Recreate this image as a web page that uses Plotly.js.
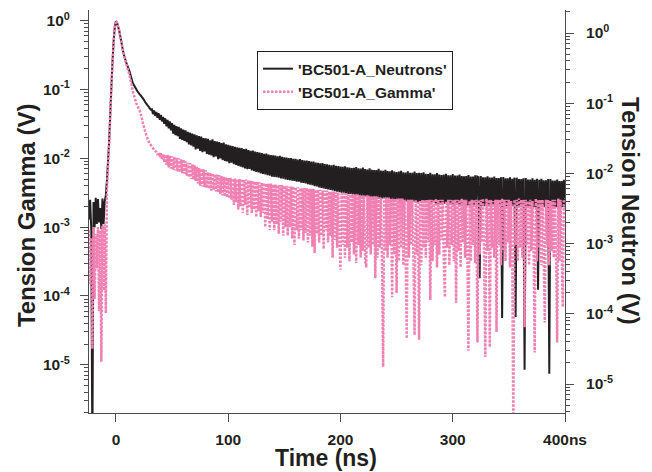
<!DOCTYPE html>
<html>
<head>
<meta charset="utf-8">
<script src="https://cdn.plot.ly/plotly-3.0.1.min.js"></script>
<style>html,body{margin:0;padding:0;background:#fff;}#chart{width:652px;height:472px;}</style>
</head>
<body>
<div id="chart"></div>
<script>
// time base (ns)
const tPre = [-24,-23,-22,-21,-20,-19,-18,-17,-16,-15,-14,-13,-12,-11,-10,-9,-8,-7,-6,-5,-4,-3,-2,-1,
  0,1,2,3,4,5,6,7,8,9,10,11,12,13,14,15,16,17,18,19,20,21,22,23,24,25,26,27,28,29,30,31];
const tTail = [32,33,34,35,36,37,38,39,40,41,
  42,43,44,45,46,47,48,49,50,51,
  52,53,54,55,56,57,58,59,60,61,
  62,63,64,65,66,67,68,69,70,71,
  72,73,74,75,76,77,78,79,80,81,
  82,83,84,85,86,87,88,89,90,91,
  92,93,94,95,96,97,98,99,100,101,
  102,103,104,105,106,107,108,109,110,111,
  112,113,114,115,116,117,118,119,120,121,
  122,123,124,125,126,127,128,129,130,131,
  132,133,134,135,136,137,138,139,140,141,
  142,143,144,145,146,147,148,149,150,151,
  152,153,154,155,156,157,158,159,160,161,
  162,163,164,165,166,167,168,169,170,171,
  172,173,174,175,176,177,178,179,180,181,
  182,183,184,185,186,187,188,189,190,191,
  192,193,194,195,196,197,198,199,200,201,
  202,203,204,205,206,207,208,209,210,211,
  212,213,214,215,216,217,218,219,220,221,
  222,223,224,225,226,227,228,229,230,231,
  232,233,234,235,236,237,238,239,240,241,
  242,243,244,245,246,247,248,249,250,251,
  252,253,254,255,256,257,258,259,260,261,
  262,263,264,265,266,267,268,269,270,271,
  272,273,274,275,276,277,278,279,280,281,
  282,283,284,285,286,287,288,289,290,291,
  292,293,294,295,296,297,298,299,300,301,
  302,303,304,305,306,307,308,309,310,311,
  312,313,314,315,316,317,318,319,320,321,
  322,323,324,325,326,327,328,329,330,331,
  332,333,334,335,336,337,338,339,340,341,
  342,343,344,345,346,347,348,349,350,351,
  352,353,354,355,356,357,358,359,360,361,
  362,363,364,365,366,367,368,369,370,371,
  372,373,374,375,376,377,378,379,380,381,
  382,383,384,385,386,387,388,389,390,391,
  392,393,394,395,396,397,398,399,400];

// 'BC501-A_Neutrons' (V, right axis)
const neutronPre = [2.2e-3,4.2e-3,1.6e-3,1e-6,3.9e-3,1.7e-3,4.5e-3,1.9e-3,4.3e-3,2.0e-3,3.2e-3,1.6e-3,4.4e-3,1.9e-3,4.0e-3,
  4.9e-3,8.1e-3,0.0155,0.030,0.075,0.18,0.41,0.79,1.22,
  1.48,1.39,1.22,1.07,0.877,0.72,0.59,0.50,0.44,0.386,0.35,0.317,0.288,0.252,0.221,0.194,
  0.182,0.170,0.159,0.149,0.142,0.135,0.129,0.123,0.117,0.111,0.104,0.099,0.094,0.090,0.085,0.081];
const neutronTail = [
  0.082,0.070,0.079,0.066,0.075,0.062,0.072,0.058,0.068,0.055,
  0.064,0.051,0.061,0.047,0.058,0.044,0.055,0.041,0.052,0.037,
  0.049,0.035,0.047,0.034,0.046,0.031,0.044,0.030,0.042,0.029,
  0.041,0.028,0.039,0.026,0.038,0.025,0.037,0.024,0.036,0.022,
  0.035,0.0225,0.034,0.021,0.0335,0.020,0.032,0.0205,0.0315,0.019,
  0.031,0.0185,0.0295,0.018,0.0305,0.017,0.029,0.0175,0.0285,0.016,
  0.028,0.0163,0.027,0.0155,0.0275,0.015,0.026,0.0148,0.0255,0.014,
  0.025,0.0142,0.0245,0.0135,0.024,0.0132,0.0235,0.0128,0.0232,0.0125,
  0.023,0.0122,0.0222,0.0118,0.0225,0.0115,0.0215,0.0116,0.021,0.011,
  0.0212,0.0108,0.0205,0.0105,0.0202,0.0103,0.0198,0.01,0.0195,0.0098,
  0.019,0.0097,0.0192,0.0094,0.0185,0.0093,0.0183,0.009,0.0181,0.0089,
  0.018,0.0088,0.0176,0.0087,0.0178,0.0085,0.0172,0.0084,0.017,0.0082,
  0.0168,0.0081,0.0166,0.008,0.0165,0.0079,0.0162,0.0078,0.0161,0.0076,
  0.0158,0.0076,0.016,0.0074,0.0155,0.0073,0.0153,0.0072,0.0152,0.007,
  0.015,0.0069,0.0148,0.0068,0.0147,0.0066,0.0143,0.0065,0.0142,0.0063,
  0.0139,0.0062,0.0141,0.0061,0.0136,0.006,0.0135,0.0059,0.0133,0.0058,
  0.0131,0.0057,0.0133,0.0056,0.0128,0.0055,0.0127,0.0054,0.0125,0.0053,
  0.0124,0.0053,0.0126,0.0052,0.0122,0.0051,0.0121,0.0051,0.0119,0.005,
  0.012,0.0049,0.0123,0.0049,0.0118,0.0048,0.0117,0.0048,0.0121,0.0047,
  0.0115,0.0047,0.0114,0.0047,0.0118,0.0046,0.0113,0.0046,0.0112,0.0046,
  0.0112,0.0045,0.0116,0.0045,0.011,0.0044,0.0109,0.0044,0.0113,0.0043,
  0.0108,0.0043,0.0107,0.0043,0.0111,0.0042,0.0106,0.0042,0.0105,0.0042,
  0.0106,0.0041,0.0109,0.0041,0.0104,0.0041,0.0103,0.004,0.0107,0.004,
  0.0102,0.004,0.0102,0.004,0.0106,0.0039,0.0101,0.0039,0.0102,0.0039,
  0.0101,0.0039,0.0104,0.0038,0.0099,0.0038,0.0098,0.0038,0.0102,0.0038,
  0.0097,0.0038,0.0097,0.0037,0.0101,0.0037,0.0096,0.0037,0.0095,0.0037,
  0.0096,0.0037,0.0099,0.0036,0.0094,0.0036,0.0094,0.0036,0.0098,0.0036,
  0.0093,0.0036,0.0093,0.0036,0.0096,0.0035,0.0092,0.0035,0.0091,0.0035,
  0.0092,0.0035,0.0095,0.0035,0.009,0.0035,0.009,0.0035,0.0094,0.0035,
  0.0090,0.0088,0.00032,0.0092,0.0034,0.0088,0.0034,0.0088,0.0034,0.0091,
  0.0034,0.0087,0.0034,0.0087,0.0034,0.009,0.0034,0.0086,0.0034,0.0086,
  0.0034,0.0088,0.000087,0.0089,0.0034,0.0085,0.0034,0.0085,0.0034,0.0088,
  0.0034,0.0084,0.0034,0.0087,0.00009,0.0087,0.0034,0.0083,0.0034,0.0083,
  0.0033,0.0085,0.000016,0.0086,0.0033,0.0082,0.0033,0.0082,0.0033,0.0085,
  0.0033,0.0081,0.0033,0.0084,0.00022,0.0081,0.0033,0.0084,0.0033,0.008,
  0.0033,0.008,0.0033,0.0083,0.000014,0.0083,0.0033,0.0079,0.0033,0.0079,
  0.0033,0.0082,0.0033,0.0078,0.0033,0.0078,0.0033,0.0081,0.0033];

// 'BC501-A_Gamma' (V, left axis)
const gammaPre = [9e-4,1.5e-4,7e-4,1.7e-5,1.0e-3,9e-5,8e-4,2.5e-4,1.0e-3,6e-5,9e-4,1.1e-5,1.05e-3,1.2e-4,1.1e-3,
  5.6e-5,3.5e-3,8e-3,0.017,0.044,0.112,0.26,0.51,0.81,
  1.0,0.926,0.81,0.708,0.579,0.474,0.388,0.328,0.277,0.243,0.212,0.186,0.163,0.137,0.116,0.095,
  0.083,0.073,0.064,0.058,0.054,0.050,0.044,0.0385,0.0326,0.0285,0.0249,0.0218,0.0197,0.0178,0.0167,0.0156];
const gammaTail = [
  0.0148,0.0140,0.0134,0.0128,0.0124,0.0112,0.0121,0.0104,0.0119,0.0098,
  0.0116,0.0088,0.0113,0.0080,0.0112,0.0074,0.0109,0.0071,0.0107,0.0068,
  0.0105,0.0067,0.0102,0.0064,0.0100,0.0063,0.0097,0.0061,0.0096,0.0060,
  0.0090,0.0056,0.0086,0.0053,0.0085,0.0050,0.0082,0.0049,0.0080,0.0047,
  0.0075,0.0043,0.0072,0.0040,0.0071,0.0039,0.0069,0.0038,0.0067,0.0037,
  0.0063,0.0036,0.0062,0.0034,0.0061,0.0035,0.0059,0.0033,0.0058,0.0032,
  0.0057,0.0030,0.0055,0.0029,0.0054,0.0028,0.0053,0.0027,0.0052,0.0026,
  0.0052,0.0025,0.0051,0.0021,0.0051,0.0023,0.0050,0.0018,0.0050,0.0020,
  0.0050,0.0016,0.0049,0.0021,0.0049,0.0015,0.0048,0.0019,0.0047,0.0016,
  0.0047,0.0018,0.0046,0.0014,0.0046,0.0017,0.0045,0.0014,0.0044,0.0016,
  0.0044,0.0010,0.0043,0.0013,0.0043,9e-4,0.0043,0.0012,0.0042,9e-4,
  0.0042,0.0011,0.0041,8e-4,0.0041,0.0012,0.0041,7.5e-4,0.0040,0.0010,
  0.0040,7.5e-4,0.0039,0.0010,0.0039,6.8e-4,0.0039,5.5e-4,0.0038,9e-4,
  0.0038,6.8e-4,0.0037,9e-4,0.0037,6.4e-4,0.0037,8.2e-4,0.0037,6e-4,
  0.0036,7.5e-4,0.0036,5.2e-4,0.0036,4.2e-4,0.0035,8e-4,0.0035,6e-4,
  0.0035,7.5e-4,0.0034,4.8e-4,0.0034,9e-4,0.0034,6e-4,0.0033,7.5e-4,
  0.0033,3.6e-4,0.0033,6.5e-4,0.0032,5e-4,0.0032,8e-4,2.4e-4,0.0031,
  5.5e-4,0.0031,3.6e-4,0.0031,5e-4,0.0030,3.2e-4,0.0030,6e-4,0.0030,
  4e-4,0.0030,3e-4,0.0030,5.5e-4,0.0029,3.6e-4,0.0029,4.5e-4,0.0029,
  3.2e-4,2.6e-4,0.0029,5e-4,0.0028,4e-4,0.0028,5.5e-4,0.0028,1.8e-4,
  0.0028,3.6e-4,0.0027,5e-4,0.0027,3.2e-4,9.3e-6,0.0027,4.5e-4,0.0027,
  3.6e-4,0.0027,5.5e-4,0.0026,9.6e-5,0.0026,4e-4,0.0026,1.1e-4,0.0026,
  3.2e-4,0.0026,5e-4,0.0026,2.8e-4,0.0025,4.5e-4,2.4e-5,0.0025,3.6e-4,
  0.0025,5.5e-4,0.0025,3.2e-4,2.7e-5,0.0025,4e-4,0.0024,2.3e-5,0.0024,
  2.8e-4,0.0025,5e-4,0.0025,3.6e-4,0.0025,6e-4,0.0025,8.7e-5,0.0025,
  3.2e-4,0.0025,5.5e-4,0.0026,2.6e-4,0.0025,4e-4,0.0025,6.5e-4,0.0025,
  3.6e-4,9.6e-5,0.0024,5e-4,0.0025,2.8e-4,0.0025,5.5e-4,0.0025,3.2e-4,
  0.0025,7.9e-5,0.0025,4.5e-4,0.0025,2.6e-4,0.0026,6e-4,0.0025,3.6e-4,
  0.0025,5e-4,1.6e-5,0.0024,3.2e-4,0.0025,5.5e-4,0.0025,3e-4,0.0025,
  2.1e-5,0.0025,4e-4,0.0025,6e-4,0.0026,3.2e-4,1.3e-5,0.0026,4.5e-4,
  0.0025,1.8e-5,0.0025,5e-4,0.0024,3.6e-4,0.0025,3.0e-5,0.0025,5.5e-4,
  0.0025,2.8e-4,0.0026,4.5e-4,0.0025,3.2e-4,0.0025,6e-4,0.0025,2.6e-4,
  0.0024,4e-4,1e-6,0.0025,5.5e-4,0.0025,3.2e-4,0.0026,5e-4,0.0025,
  3.6e-4,0.0025,3.5e-5,0.0025,5.5e-4,0.0024,2.8e-4,0.0025,4.5e-4,0.0024,
  6e-4,1.5e-5,0.0026,3.2e-4,0.0025,5e-4,0.0025,2.8e-4,0.0025,4e-4,
  4.1e-5,0.0025,5.5e-4,0.0025,2.8e-4,0.0024,4.5e-4,0.0025,3.6e-4,0.0025,
  6e-4,2.1e-5,0.0026,3.2e-4,0.0025,5e-4,6.9e-5,0.0025,0.0026];

const xTickVals = [0,100,200,300,400];
const xTickText = ['0','100','200','300','400ns'];
const yTickVals = [1e-5,1e-4,1e-3,1e-2,1e-1,1];
const yTickText = ['10<sup>-5</sup>','10<sup>-4</sup>','10<sup>-3</sup>','10<sup>-2</sup>','10<sup>-1</sup>','10<sup>0</sup>'];

const minorVals = [];
for (let e = -6; e <= 0; e++) for (let m = 2; m <= 9; m++) minorVals.push(m * Math.pow(10, e));

const FONT = 'Liberation Sans, Arial, Helvetica, sans-serif';
const TXT = '#231f20';
const AX = '#4d4d4d';

const times = tPre.concat(tTail);

const traces = [
  {
    name: "'BC501-A_Neutrons'",
    x: times, y: neutronPre.concat(neutronTail),
    type: 'scatter', mode: 'lines', yaxis: 'y',
    line: {color: '#231f20', width: 2, simplify: false}
  },
  {
    name: "'BC501-A_Gamma'",
    x: times, y: gammaPre.concat(gammaTail),
    type: 'scatter', mode: 'lines', yaxis: 'y2',
    line: {color: '#f07fb2', width: 2.5, dash: '2.5px,1.5px', simplify: false}
  }
];

const yCommon = {
  type: 'log', showgrid: false, zeroline: false, showline: true, linecolor: AX, linewidth: 1,
  ticks: 'outside', ticklen: 8, tickcolor: AX, tickwidth: 1,
  tickmode: 'array', tickvals: yTickVals, ticktext: yTickText,
  tickfont: {family: FONT, size: 15.5, color: TXT, weight: 'bold'},
  minor: {tickmode: 'array', tickvals: minorVals, ticks: 'outside', ticklen: 4, tickcolor: AX, tickwidth: 1, showgrid: false}
};

const layout = {
  width: 652, height: 472,
  margin: {l: 89, r: 87, t: 10, b: 59, pad: 0},
  paper_bgcolor: '#ffffff', plot_bgcolor: '#ffffff',
  showlegend: true,
  legend: {
    x: 0.353, y: 0.898, xanchor: 'left', yanchor: 'top',
    bgcolor: '#ffffff', bordercolor: '#231f20', borderwidth: 1,
    font: {family: FONT, size: 15.5, color: TXT, weight: 'bold'},
    tracegroupgap: 0
  },
  xaxis: {
    range: [-24, 400], showgrid: false, zeroline: false, showline: true, linecolor: AX, linewidth: 1,
    ticks: 'outside', ticklen: 8, tickcolor: AX, tickwidth: 1,
    tickmode: 'array', tickvals: xTickVals, ticktext: xTickText,
    ticklabelstandoff: 4,
    tickfont: {family: FONT, size: 15.5, color: TXT, weight: 'bold'}
  },
  yaxis: Object.assign({}, yCommon, {side: 'right', range: [-5.413, 0.328], ticklabelstandoff: 9}),
  yaxis2: Object.assign({}, yCommon, {side: 'left', overlaying: 'y', range: [-5.702, 0.156], ticklabelstandoff: 7}),
  annotations: [
    {text: 'Time (ns)', xref: 'paper', yref: 'paper', x: 0.497, y: -0.112, xanchor: 'center', yanchor: 'middle',
     showarrow: false, font: {family: FONT, size: 23, color: TXT, weight: 'bold'}},
    {text: 'Tension Gamma (V)', xref: 'paper', yref: 'paper', x: -0.1324, y: 0.491, xanchor: 'center', yanchor: 'middle',
     textangle: -90, showarrow: false, font: {family: FONT, size: 24, color: TXT, weight: 'bold'}},
    {text: 'Tension Neutron (V)', xref: 'paper', yref: 'paper', x: 1.1387, y: 0.501, xanchor: 'center', yanchor: 'middle',
     textangle: 90, showarrow: false, font: {family: FONT, size: 24, color: TXT, weight: 'bold'}}
  ]
};

Plotly.newPlot('chart', traces, layout, {displayModeBar: false, staticPlot: true});
</script>
</body>
</html>
